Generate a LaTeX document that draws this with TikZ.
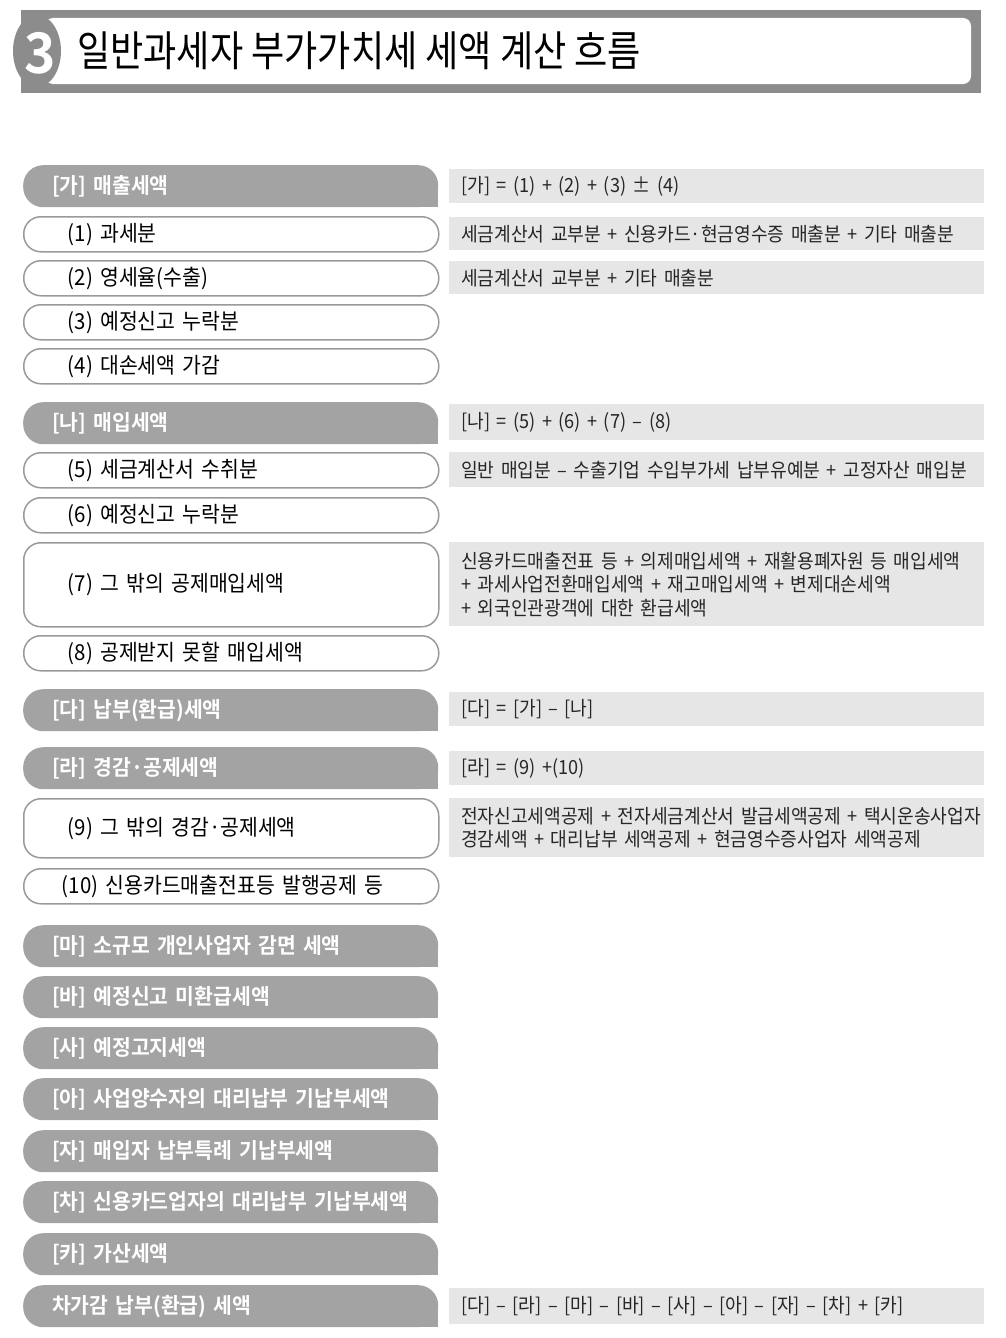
\documentclass[tikz,border=0pt]{standalone}
\usepackage{fontspec}
\newfontfamily\krfont[FakeStretch=0.93]{Noto Sans CJK KR}
\newfontfamily\krbold[FakeStretch=0.95]{Noto Sans CJK KR Bold}
\newfontfamily\krtitle[FakeStretch=0.86]{Noto Sans CJK KR}
\definecolor{titulocinza}{HTML}{8C8C8C}
\definecolor{barcinza}{HTML}{A3A3A3}
\definecolor{linhacinza}{HTML}{9A9A9A}
\definecolor{caixacinza}{HTML}{E6E6E6}

\begin{document}
\begin{tikzpicture}[x=1pt,y=-1pt,
    headbar/.style={anchor=north west, fill=barcinza, rounded corners=20pt,
        minimum width=415pt, minimum height=42pt, inner xsep=29pt, inner ysep=0pt,
        text width=357pt, align=left, text=white, font=\krbold\fontsize{21.5}{24}\selectfont},
    itembox/.style={anchor=north west, draw=linhacinza, line width=1.5pt, fill=white,
        rounded corners=17pt, minimum width=415pt, minimum height=35pt, inner xsep=44pt,
        inner ysep=0pt, text width=327pt, align=left, font=\krfont\fontsize{22}{26}\selectfont},
    formbox/.style={anchor=north west, fill=caixacinza, minimum width=535pt, inner xsep=12pt,
        inner ysep=0pt, text width=511pt, align=left, text=black!85,
        font=\krfont\fontsize{19.5}{23.5}\selectfont}]
    \useasboundingbox (0,0) rectangle (1006,1338);
    % Titulo
    \fill[titulocinza] (21,10) rectangle (981,93);
    \fill[white, rounded corners=8pt] (45,18) rectangle (971,84);
    \fill[titulocinza] (37,51) ellipse [x radius=24, y radius=36];
    \node[text=white, inner sep=0pt, font=\krbold\fontsize{56}{56}\selectfont] (num) at (40,53) {3};
    \node[anchor=west, inner sep=0pt, font=\krtitle\fontsize{42}{48}\selectfont] (titulo) at (77,51) {일반과세자 부가가치세 세액 계산 흐름};
    % [가] Vendas
    \node[headbar] (ga) at (23,165) {[가] 매출세액};
    \node[formbox, minimum height=34pt] (fga) at (449,169) {[가] = (1) + (2) + (3) ± (4)};
    \node[itembox] (i1) at (23,216) {(1) 과세분};
    \node[formbox, minimum height=33pt] (f1) at (449,217) {세금계산서 교부분 + 신용카드·현금영수증 매출분 + 기타 매출분};
    \node[itembox] (i2) at (23,260) {(2) 영세율(수출)};
    \node[formbox, minimum height=33pt] (f2) at (449,261) {세금계산서 교부분 + 기타 매출분};
    \node[itembox] (i3) at (23,304) {(3) 예정신고 누락분};
    \node[itembox] (i4) at (23,348) {(4) 대손세액 가감};
    % [나] Compras
    \node[headbar] (na) at (23,402) {[나] 매입세액};
    \node[formbox, minimum height=36pt] (fna) at (449,404) {[나] = (5) + (6) + (7) – (8)};
    \node[itembox] (i5) at (23,452) {(5) 세금계산서 수취분};
    \node[formbox, minimum height=35pt] (f5) at (449,452) {\mbox{일반 매입분 – 수출기업 수입부가세 납부유예분 + 고정자산 매입분}};
    \node[itembox] (i6) at (23,497) {(6) 예정신고 누락분};
    \node[itembox, minimum height=84pt] (i7) at (23,542) {(7) 그 밖의 공제매입세액};
    \node[formbox, minimum height=84pt] (f7) at (449,542) {\mbox{신용카드매출전표 등 + 의제매입세액 + 재활용폐자원 등 매입세액}\\+ 과세사업전환매입세액 + 재고매입세액 + 변제대손세액\\+ 외국인관광객에 대한 환급세액};
    \node[itembox] (i8) at (23,635) {(8) 공제받지 못할 매입세액};
    % [다] e [라]
    \node[headbar] (da) at (23,689) {[다] 납부(환급)세액};
    \node[formbox, minimum height=34pt] (fda) at (449,692) {[다] = [가] – [나]};
    \node[headbar] (ra) at (23,747) {[라] 경감·공제세액};
    \node[formbox, minimum height=34pt] (fra) at (449,751) {[라] = (9) +(10)};
    \node[itembox, minimum height=59pt] (i9) at (23,798) {(9) 그 밖의 경감·공제세액};
    \node[formbox, minimum height=59pt] (f9) at (449,798) {\mbox{전자신고세액공제 + 전자세금계산서 발급세액공제 + 택시운송사업자}\\\mbox{경감세액 + 대리납부 세액공제 + 현금영수증사업자 세액공제}};
    \node[itembox, inner xsep=38pt, text width=339pt] (i10) at (23,868) {(10) 신용카드매출전표등 발행공제 등};
    % Demais linhas
    \node[headbar] (ma) at (23,925) {[마] 소규모 개인사업자 감면 세액};
    \node[headbar] (ba) at (23,976) {[바] 예정신고 미환급세액};
    \node[headbar] (sa) at (23,1027) {[사] 예정고지세액};
    \node[headbar] (aa) at (23,1078) {[아] 사업양수자의 대리납부 기납부세액};
    \node[headbar] (ja) at (23,1130) {[자] 매입자 납부특례 기납부세액};
    \node[headbar] (cha) at (23,1181) {[차] 신용카드업자의 대리납부 기납부세액};
    \node[headbar] (ka) at (23,1233) {[카] 가산세액};
    \node[headbar] (fim) at (23,1285) {차가감 납부(환급) 세액};
    \node[formbox, minimum height=36pt] (ffim) at (449,1288) {[다] – [라] – [마] – [바] – [사] – [아] – [자] – [차] + [카]};
    % Canto inferior direito reto
    \foreach \n in {ga,na,da,ra,ma,ba,sa,aa,ja,cha,ka,fim}
        \fill[barcinza] ([xshift=-20pt]\n.south east) rectangle ([yshift=20pt]\n.south east);
\end{tikzpicture}
\end{document}
